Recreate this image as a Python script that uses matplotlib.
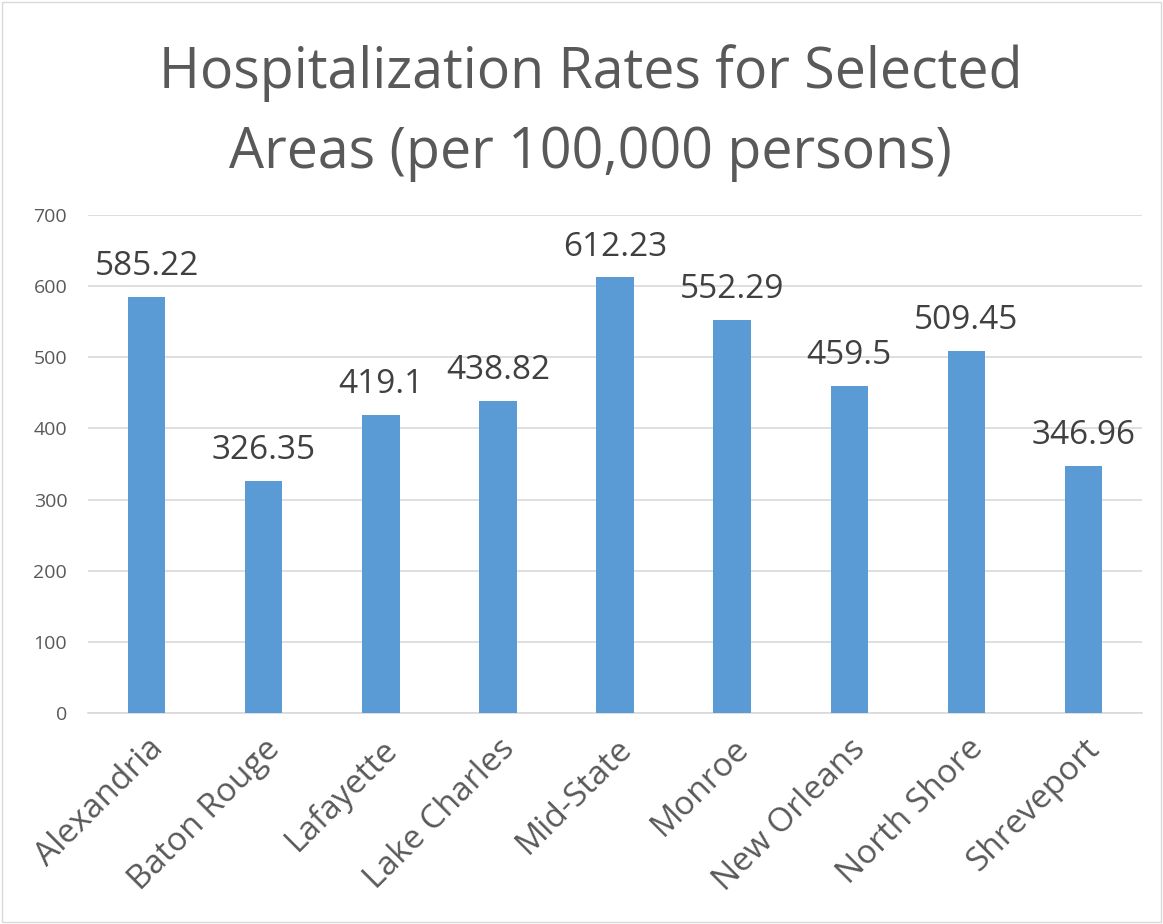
import matplotlib.pyplot as plt
from matplotlib.patches import Rectangle

areas = ['Alexandria', 'Baton Rouge', 'Lafayette', 'Lake Charles', 'Mid-State',
         'Monroe', 'New Orleans', 'North Shore', 'Shreveport']
rates = [585.22, 326.35, 419.1, 438.82, 612.23, 552.29, 459.5, 509.45, 346.96]
rate_labels = ['585.22', '326.35', '419.1', '438.82', '612.23',
               '552.29', '459.5', '509.45', '346.96']

plt.rcParams['font.family'] = ['Open Sans', 'DejaVu Sans']

fig = plt.figure(figsize=(11.63, 9.24), dpi=100)
ax = fig.add_axes([0.0757, 0.2284, 0.9063, 0.5389])

x = range(len(areas))
ax.bar(x, rates, width=0.32, color='#5b9bd5', zorder=3)
for i, lab in enumerate(rate_labels):
    ax.annotate(lab, (i, rates[i]), xytext=(0, 10), textcoords='offset points',
                ha='center', va='bottom', fontsize=24, color='#404040')

ax.set_xlim(-0.5, len(areas) - 0.5)
ax.set_ylim(0, 700)
ax.set_yticks(range(0, 701, 100))
ax.yaxis.grid(True, color='#d9d9d9', linewidth=1.2, zorder=0)
ax.tick_params(axis='y', length=0, labelsize=14, labelcolor='#595959', pad=15)
ax.tick_params(axis='x', length=0, labelsize=24, labelcolor='#595959', pad=14)
ax.set_xticks(list(x))
ax.set_xticklabels(areas, rotation=45, ha='right', rotation_mode='anchor')
for s in ['top', 'right', 'left']:
    ax.spines[s].set_visible(False)
ax.spines['bottom'].set_color('#d9d9d9')
ax.spines['bottom'].set_linewidth(1.2)

fig.text(0.508, 0.921, 'Hospitalization Rates for Selected', ha='center',
         va='center', fontsize=40, color='#595959')
fig.text(0.508, 0.834, 'Areas (per 100,000 persons)', ha='center',
         va='center', fontsize=40, color='#595959')

fig.patches.append(Rectangle((0.002, 0.002), 0.996, 0.996, transform=fig.transFigure,
                             fill=False, edgecolor='#d9d9d9', linewidth=1))

fig.savefig('out.png', dpi=100, facecolor='white')
